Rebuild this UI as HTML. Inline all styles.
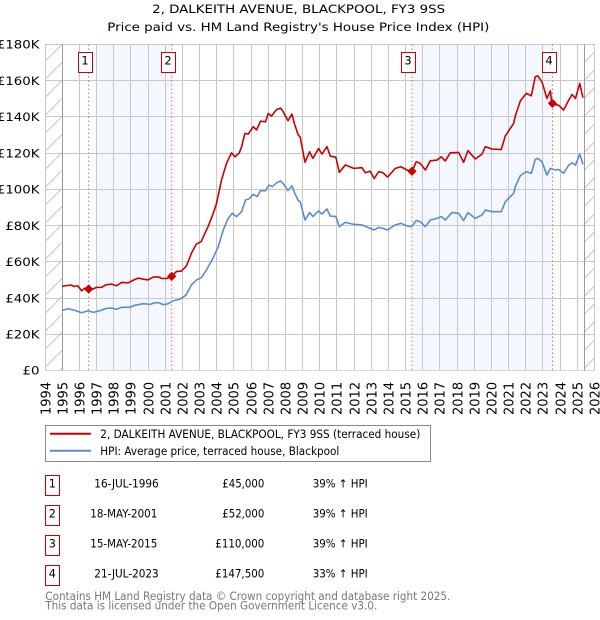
<!DOCTYPE html>
<html lang="en">
<head>
<meta charset="utf-8">
<title>2, DALKEITH AVENUE, BLACKPOOL, FY3 9SS</title>
<style>
html,body{margin:0;padding:0;background:#fff;width:600px;height:620px;overflow:hidden}
svg{display:block;font-family:"DejaVu Sans","Liberation Sans",sans-serif}
text{fill:#000}
</style>
</head>
<body>
<svg id="chart" xmlns="http://www.w3.org/2000/svg" width="600" height="620" viewBox="0 0 600 620">
<text x="298.6" y="13" text-anchor="middle" font-size="11.5" textLength="293" lengthAdjust="spacingAndGlyphs">2, DALKEITH AVENUE, BLACKPOOL, FY3 9SS</text>
<text x="298.3" y="31" text-anchor="middle" font-size="11.5" textLength="382" lengthAdjust="spacingAndGlyphs">Price paid vs. HM Land Registry's House Price Index (HPI)</text>
<g id="plot"></g>

<g>
<rect x="45.5" y="425.5" width="385" height="36" fill="#fff" stroke="#888"/>
<line x1="50" x2="91" y1="433.8" y2="433.8" stroke="#cc0000" stroke-width="2"/>
<text x="100.3" y="438" font-size="11.2" textLength="320" lengthAdjust="spacingAndGlyphs">2, DALKEITH AVENUE, BLACKPOOL, FY3 9SS (terraced house)</text>
<line x1="50" x2="91" y1="450.8" y2="450.8" stroke="#5b8bd0" stroke-width="2"/>
<text x="100.3" y="455" font-size="11.2" textLength="239" lengthAdjust="spacingAndGlyphs">HPI: Average price, terraced house, Blackpool</text>
</g>

<g font-size="11.2">
<g>
<rect x="45.5" y="475.5" width="14" height="20" fill="#fff" stroke="#cc0000"/>
<text x="52.3" y="487.5" text-anchor="middle">1</text>
<text x="94.3" y="487.5" textLength="64.4" lengthAdjust="spacingAndGlyphs">16-JUL-1996</text>
<text x="222.3" y="487.5" textLength="42" lengthAdjust="spacingAndGlyphs">£45,000</text>
<text x="312.7" y="487.5" textLength="55" lengthAdjust="spacingAndGlyphs">39% ↑ HPI</text>
</g>
<g>
<rect x="45.5" y="505.5" width="14" height="20" fill="#fff" stroke="#cc0000"/>
<text x="52.3" y="517.5" text-anchor="middle">2</text>
<text x="90.3" y="517.5" textLength="67" lengthAdjust="spacingAndGlyphs">18-MAY-2001</text>
<text x="222.3" y="517.5" textLength="42" lengthAdjust="spacingAndGlyphs">£52,000</text>
<text x="312.7" y="517.5" textLength="55" lengthAdjust="spacingAndGlyphs">39% ↑ HPI</text>
</g>
<g>
<rect x="45.5" y="535.5" width="14" height="20" fill="#fff" stroke="#cc0000"/>
<text x="52.3" y="547.5" text-anchor="middle">3</text>
<text x="90.3" y="547.5" textLength="67" lengthAdjust="spacingAndGlyphs">15-MAY-2015</text>
<text x="215.3" y="547.5" textLength="49" lengthAdjust="spacingAndGlyphs">£110,000</text>
<text x="312.7" y="547.5" textLength="55" lengthAdjust="spacingAndGlyphs">39% ↑ HPI</text>
</g>
<g>
<rect x="45.5" y="565.5" width="14" height="20" fill="#fff" stroke="#cc0000"/>
<text x="52.3" y="577.5" text-anchor="middle">4</text>
<text x="94.3" y="577.5" textLength="64.4" lengthAdjust="spacingAndGlyphs">21-JUL-2023</text>
<text x="215.3" y="577.5" textLength="49" lengthAdjust="spacingAndGlyphs">£147,500</text>
<text x="312.7" y="577.5" textLength="55" lengthAdjust="spacingAndGlyphs">33% ↑ HPI</text>
</g>
</g>

<text x="45.3" y="600" font-size="11.2" textLength="405" lengthAdjust="spacingAndGlyphs" style="fill:#777">Contains HM Land Registry data © Crown copyright and database right 2025.</text>
<text x="45.3" y="609.7" font-size="11.2" textLength="332" lengthAdjust="spacingAndGlyphs" style="fill:#777">This data is licensed under the Open Government Licence v3.0.</text>

<script>
var yearTicks = [1994,1995,1996,1997,1998,1999,2000,2001,2002,2003,2004,2005,2006,2007,2008,2009,2010,2011,2012,2013,2014,2015,2016,2017,2018,2019,2020,2021,2022,2023,2024,2025,2026];
var priceTicks = [0,20,40,60,80,100,120,140,160,180];
var priceTickLabels = ["£0","£20K","£40K","£60K","£80K","£100K","£120K","£140K","£160K","£180K"];

var paidDates = [1995.0,1995.2,1995.5,1995.7,1995.9,1996.14,1996.33,1996.54,1996.7,1997.0,1997.3,1997.55,1997.87,1998.17,1998.46,1998.85,1999.15,1999.43,1999.7,2000.0,2000.3,2000.6,2000.8,2001.08,2001.38,2001.66,2001.95,2002.24,2002.53,2002.8,2003.1,2003.4,2003.5,2003.8,2003.99,2004.28,2004.57,2004.86,2005.06,2005.31,2005.45,2005.64,2005.83,2006.13,2006.32,2006.55,2006.84,2007.0,2007.19,2007.49,2007.72,2007.87,2008.15,2008.38,2008.55,2008.75,2008.86,2009.14,2009.41,2009.6,2009.93,2010.13,2010.42,2010.61,2010.94,2011.14,2011.49,2011.97,2012.46,2012.65,2012.94,2013.17,2013.43,2013.68,2013.95,2014.4,2014.73,2015.08,2015.37,2015.62,2015.85,2016.15,2016.44,2016.83,2017.08,2017.31,2017.6,2018.09,2018.38,2018.63,2019.06,2019.45,2019.64,2020.03,2020.57,2020.81,2021.29,2021.39,2021.68,2022.03,2022.32,2022.55,2022.69,2022.94,2023.23,2023.43,2023.52,2023.91,2024.2,2024.5,2024.69,2024.89,2025.14,2025.33];
var paidValues = [46.4,46.8,47.2,46.4,46.8,44,45.5,45,44.6,45.9,45.9,47.3,47.7,46.8,48.6,48.4,49.9,51,50.5,50,51.6,51.7,50.8,50.8,52,54.7,54.9,57.8,64.8,69.7,71.2,77.6,79.5,86.8,92.3,105.2,114.4,120.2,118,120,123.6,130.9,130.5,134.6,132.8,137.7,137.3,141.9,140.5,144.1,144.9,142.9,137.9,141.6,135.5,130,129,115,120.8,117.1,122.6,119.5,123.6,118.4,117.7,109.4,113.5,111.6,112,109.2,110,106,109.8,109.2,106.8,111.6,112.5,110.7,109.8,115.3,114.4,110.7,115.8,116.2,118,115.7,120.2,120.4,115,121.4,116.8,119.5,123.6,122.3,122,129.6,136.4,140.5,148.9,153,151.7,162.2,162.7,159.4,150.2,154.4,147,146.5,143.8,149.3,152.4,150.2,158.5,150.6];

var hpiDates = [1995.0,1995.35,1995.74,1996.13,1996.51,1996.81,1997.19,1997.58,1997.87,1998.17,1998.46,1998.94,1999.23,1999.72,2000.11,2000.4,2000.65,2000.88,2001.17,2001.47,2001.85,2002.2,2002.53,2002.83,2003.12,2003.41,2003.8,2004.09,2004.38,2004.67,2004.9,2005.16,2005.45,2005.68,2005.87,2006.13,2006.36,2006.55,2006.84,2007.04,2007.23,2007.52,2007.72,2007.87,2008.15,2008.38,2008.55,2008.75,2008.86,2009.14,2009.41,2009.6,2009.93,2010.13,2010.42,2010.61,2010.94,2011.14,2011.49,2011.97,2012.46,2012.94,2013.17,2013.43,2013.68,2013.95,2014.4,2014.73,2015.08,2015.35,2015.62,2015.85,2016.15,2016.44,2016.83,2017.08,2017.31,2017.7,2018.09,2018.38,2018.63,2019.06,2019.45,2019.64,2020.03,2020.57,2020.81,2021.29,2021.39,2021.68,2022.03,2022.32,2022.55,2022.69,2022.94,2023.23,2023.43,2023.72,2023.91,2024.2,2024.5,2024.69,2024.89,2025.14,2025.33];
var hpiValues = [33.2,34.1,33.2,31.9,33,32.1,33,34.3,34.5,33.8,34.9,34.9,36,36.9,36.5,37.4,37.4,36.3,36.9,38.5,39.4,41.5,47.3,50,51.4,55.6,62.4,68.4,77.6,84,86.8,85,87.7,94.2,94.7,97.3,96,99.3,99.3,102.4,101.5,103.9,104.6,103.3,99.3,102,97.8,93.8,93.2,83.1,87.2,85,88.1,86.4,89.2,85.3,85,79.4,81.8,80.7,80.4,78.5,77.6,79,78.5,77.6,80.4,81.3,79.8,79.4,82.8,82.2,79.4,83.1,84,85,83.1,87.2,86.8,82.8,87.2,84,85.9,88.6,87.7,87.7,93.2,97.8,101.5,107.6,109.8,108.9,116.6,117.1,115.3,107.9,111.6,110.7,111,108.9,113.4,114.7,113.4,119.5,113.8];

var saleDates = [1996.54,2001.38,2015.37,2023.55];
var saleValues = [45,52,110,147.5];
var saleLabels = ["1","2","3","4"];
var shadedBandStarts = [1997.0,2015.37];
var shadedBandEnds = [2001.38,2023.55];
var dataStartYear = 1995;
var dataEndYear = 2025.42;

var NS = "http://www.w3.org/2000/svg";
var plot = document.getElementById("plot");
var PLOT_LEFT = 45, PLOT_RIGHT = 594.5, PLOT_TOP = 44.5, PLOT_BOTTOM = 370.5;
var HATCH_SPACING = 18, HATCH_PHASE = 16.5;

function x(year){ return PLOT_LEFT + (year - 1994) * (PLOT_RIGHT - PLOT_LEFT) / 32; }
function y(k){ return PLOT_BOTTOM - k * (PLOT_BOTTOM - PLOT_TOP) / 180; }
function snap(v){ return Math.floor(v) + 0.5; }
function make(tag, attrs, parent){
  var el = document.createElementNS(NS, tag);
  for (var key in attrs) { el.setAttribute(key, attrs[key]); }
  (parent || plot).appendChild(el);
  return el;
}

var i, el;

for (i = 0; i < shadedBandStarts.length; i++) {
  el = make("rect", {x: x(shadedBandStarts[i]), y: PLOT_TOP, width: x(shadedBandEnds[i]) - x(shadedBandStarts[i]), height: PLOT_BOTTOM - PLOT_TOP, fill: "#f4f7fe"});
  
  
}

function hatchPath(left, right){
  var d = "";
  var first = Math.floor((left + PLOT_TOP) / HATCH_SPACING) * HATCH_SPACING + HATCH_PHASE;
  for (var s = first; s < right + PLOT_BOTTOM; s += HATCH_SPACING) {
    var xa = Math.max(left, s - PLOT_BOTTOM);
    var xb = Math.min(right, s - PLOT_TOP);
    if (xb > xa) { d += "M" + xa.toFixed(2) + " " + (s - xa).toFixed(2) + "L" + xb.toFixed(2) + " " + (s - xb).toFixed(2); }
  }
  return d;
}

el = make("path", {d: hatchPath(x(1994), x(dataStartYear)), fill: "none", stroke: "#c4c4c4", "stroke-width": 1});


el = make("path", {d: hatchPath(x(dataEndYear), x(2026)), fill: "none", stroke: "#c4c4c4", "stroke-width": 1});



for (i = 0; i < yearTicks.length; i++) {
  el = make("line", {x1: snap(x(yearTicks[i])), x2: snap(x(yearTicks[i])), y1: PLOT_TOP, y2: PLOT_BOTTOM, stroke: "#c8c8c8", "stroke-width": 1});
  
  
  var lx = snap(x(yearTicks[i])) + 4.8;
  el = make("text", {x: 0, y: 0, transform: "translate(" + lx + ",415) rotate(-90)", "font-size": 13});
  el.textContent = yearTicks[i];
  
  
}

for (i = 0; i < priceTicks.length; i++) {
  el = make("line", {x1: PLOT_LEFT, x2: PLOT_RIGHT, y1: snap(y(priceTicks[i])), y2: snap(y(priceTicks[i])), stroke: i === 0 ? "#d4d8e0" : "#c8c8c8", "stroke-width": 1});
  
  
  el = make("text", {x: 0, y: 0, transform: "translate(39.5," + (y(priceTicks[i]) + 4.2) + ") scale(1.16,1)", "text-anchor": "end", "font-size": 11.5});
  el.textContent = priceTickLabels[i];
  
  
}

el = make("line", {x1: snap(x(dataStartYear)), x2: snap(x(dataStartYear)), y1: PLOT_TOP, y2: PLOT_BOTTOM, stroke: "#999", "stroke-width": 1});


el = make("line", {x1: snap(x(dataEndYear)), x2: snap(x(dataEndYear)), y1: PLOT_TOP, y2: PLOT_BOTTOM, stroke: "#999", "stroke-width": 1});



for (i = 0; i < saleDates.length; i++) {
  el = make("line", {x1: x(saleDates[i]), x2: x(saleDates[i]), y1: PLOT_TOP, y2: PLOT_BOTTOM, stroke: "#e8505a", "stroke-width": 1, "stroke-dasharray": "1.5 2.5", opacity: 0.85});
  
  
}

function linePath(dates, values){
  var d = "";
  for (var j = 0; j < dates.length; j++) {
    d += (j ? "L" : "M") + x(dates[j]).toFixed(2) + " " + y(values[j]).toFixed(2);
  }
  return d;
}

el = make("path", {d: linePath(hpiDates, hpiValues), fill: "none", stroke: "#5b8bd0", "stroke-width": 1.6, "stroke-linejoin": "round"});


el = make("path", {d: linePath(paidDates, paidValues), fill: "none", stroke: "#cc0000", "stroke-width": 1.6, "stroke-linejoin": "round"});



for (i = 0; i < saleDates.length; i++) {
  var sx = x(saleDates[i]), sy = y(saleValues[i]);
  el = make("path", {d: "M" + (sx - 3.8) + " " + sy + "L" + sx + " " + (sy - 3.8) + "L" + (sx + 3.8) + " " + sy + "L" + sx + " " + (sy + 3.8) + "Z", fill: "#cc0000", stroke: "#cc0000", "stroke-width": 1.2, "stroke-linejoin": "round"});
  
  
  el = make("rect", {x: Math.floor(sx) - 10 + 0.5, y: 52.5, width: 14, height: 20, fill: "#fff", stroke: "#cc0000", "stroke-width": 1});
  
  
  el = make("text", {x: Math.floor(sx) - 3, y: 64.3, "text-anchor": "middle", "font-size": 11.5});
  el.textContent = saleLabels[i];
  
  
}
</script>
</svg>
</body>
</html>
